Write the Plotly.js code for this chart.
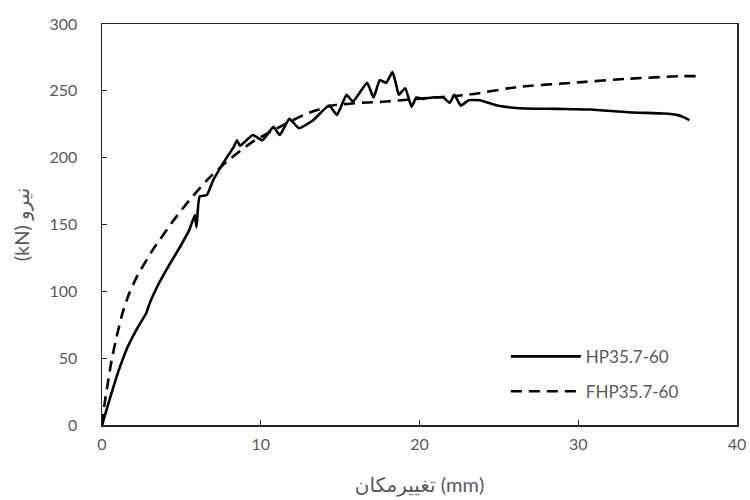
<!DOCTYPE html>
<html>
<head>
<meta charset="utf-8">
<script src="https://cdn.plot.ly/plotly-3.0.1.min.js"></script>
<style>html,body{margin:0;padding:0;background:#fff;}#chart{width:750px;height:500px;}</style>
</head>
<body>
<div id="chart"></div>
<script>
const seriesNames = ["HP35.7-60", "FHP35.7-60"];
const hpX = [0, 0.5, 1.0, 1.6, 2.2, 2.8, 3.0, 3.5, 4.2, 4.9, 5.5, 5.85, 5.95, 6.15, 6.6, 7.0, 7.85, 8.3, 8.5, 8.7, 9.5, 10.1, 10.8, 11.2, 11.8, 12.4, 13.3, 14.3, 14.8, 15.4, 15.8, 16.7, 17.1, 17.5, 17.9, 18.3, 18.5, 18.7, 19.1, 19.5, 19.8, 20.2, 20.8, 21.5, 21.9, 22.2, 22.6, 23.1, 23.8, 24.9, 26.3, 28.6, 30.8, 33.1, 35.4, 36.2, 36.7, 37.0];
const hpY = [0, 20, 39, 58, 72, 84, 91, 104, 119, 133, 146, 157, 148, 171, 172, 183, 200, 208, 213, 209, 217, 213, 223, 217, 229, 222, 228, 239, 232, 247, 242, 256, 245, 258, 256, 264, 256, 247, 252, 238, 245, 244, 245, 245, 241, 247, 239, 243, 243, 239, 237, 236.5, 236, 234, 233, 232, 230, 228];
const fhpX = [0, 0.15, 0.35, 0.6, 0.9, 1.3, 1.7, 2.2, 3.2, 4.5, 5.5, 6.6, 7.85, 8.7, 9.5, 11.2, 12.9, 14.5, 16.2, 17.9, 19.8, 23.0, 26.3, 29.6, 33.1, 36.6, 37.4];
const fhpY = [0, 15, 30, 48, 65, 84, 98, 111, 131, 153, 168, 183, 197, 205, 212, 223, 233, 239, 241, 242, 244, 247, 253, 256, 259, 261, 261];
const xTicks = [0, 10, 20, 30, 40];
const yTicks = [0, 50, 100, 150, 200, 250, 300];
const xTitle = "تغییرمکان (mm)";
const yTitle = "(kN) نیرو";

const fontFam = "Lato, 'DejaVu Sans', sans-serif";
const traces = [
  {x: hpX, y: hpY, name: seriesNames[0], mode: "lines", type: "scatter",
   line: {color: "#000000", width: 2.6, shape: "spline", smoothing: 0.4}, legend: "legend"},
  {x: fhpX, y: fhpY, name: seriesNames[1], mode: "lines", type: "scatter",
   line: {color: "#000000", width: 2.6, dash: "11px,7px", shape: "spline", smoothing: 0.6}, legend: "legend2"}
];
const axisCommon = {
  showgrid: false, zeroline: false, showline: true, mirror: true,
  linecolor: "#262626", linewidth: 1.5, ticks: "inside", ticklen: 5, tickcolor: "#262626",
  tickfont: {family: fontFam, size: 16, color: "#595959"}
};
const legendFont = {family: fontFam, size: 17, color: "#595959"};
const layout = {
  width: 750, height: 500,
  margin: {l: 102, r: 13, t: 24, b: 75},
  paper_bgcolor: "#ffffff", plot_bgcolor: "#ffffff",
  xaxis: Object.assign({}, axisCommon, {range: [0, 40], tickvals: xTicks, ticklabelstandoff: 4,
    title: {text: xTitle, font: {family: fontFam, size: 20, color: "#595959"}, standoff: 26}}),
  yaxis: Object.assign({}, axisCommon, {range: [0, 300], tickvals: yTicks, ticklabelstandoff: 20,
    title: {text: yTitle, font: {family: fontFam, size: 20, color: "#595959"}, standoff: 14}}),
  legend: {x: 0.636, y: 0.17, xanchor: "left", yanchor: "middle", bgcolor: "rgba(0,0,0,0)",
    itemwidth: 70, font: legendFont},
  legend2: {x: 0.636, y: 0.083, xanchor: "left", yanchor: "middle", bgcolor: "rgba(0,0,0,0)",
    itemwidth: 70, font: legendFont},
  showlegend: true
};
Plotly.newPlot("chart", traces, layout, {displayModeBar: false, staticPlot: true});
</script>
</body>
</html>
